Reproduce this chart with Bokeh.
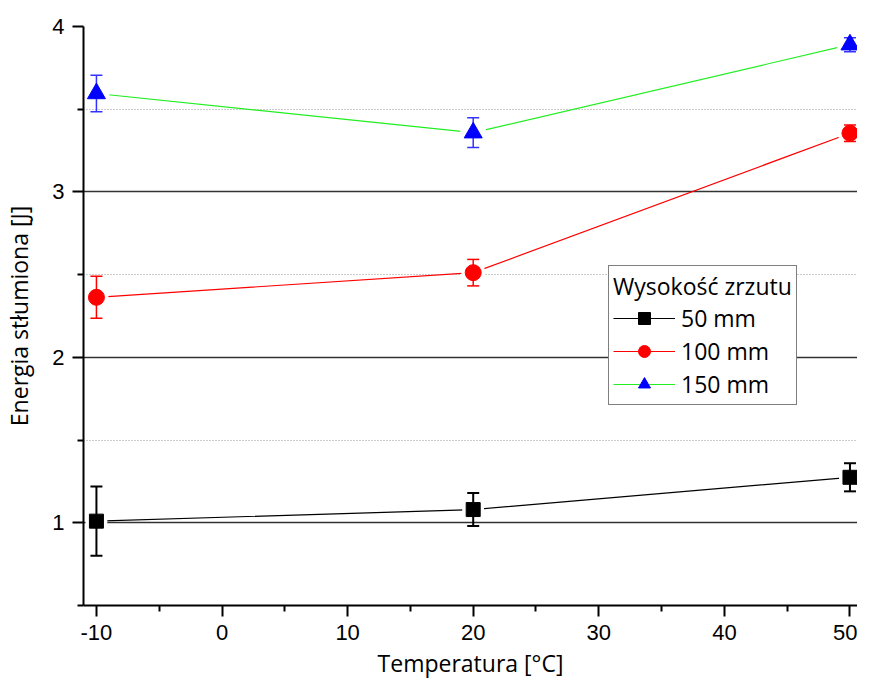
from bokeh.plotting import figure
from bokeh.models import Range1d, FixedTicker, Legend, LegendItem
from bokeh.embed import file_html
from bokeh.resources import INLINE

# ---- data ----
temps = [-10, 20, 50]
e50 = [1.01, 1.08, 1.275]
err50 = [0.21, 0.10, 0.085]
e100 = [2.363, 2.512, 3.355]
err100 = [0.127, 0.08, 0.05]
e150 = [3.595, 3.358, 3.89]
err150 = [0.11, 0.09, 0.042]

labels = ["50 mm", "100 mm", "150 mm"]
x_ticks = [-10, 0, 10, 20, 30, 40, 50]
x_minor = [-5, 5, 15, 25, 35, 45]
y_ticks = [1, 2, 3, 4]
y_minor = [0.5, 1.5, 2.5, 3.5]
legend_title = "Wysokość zrzutu"

p = figure(width=857, height=683, output_backend="svg", toolbar_location=None,
           x_range=Range1d(-11.03, 50.6), y_range=Range1d(0.5, 4.0),
           min_border_left=83, min_border_top=26, min_border_right=0,
           min_border_bottom=78)
p.outline_line_color = None
p.background_fill_color = "white"
p.border_fill_color = "white"

# axes
for ax in (p.xaxis[0], p.yaxis[0]):
    ax.axis_line_width = 2
    ax.axis_line_color = "black"
    ax.major_tick_line_width = 2
    ax.minor_tick_line_width = 2
    ax.major_tick_line_color = "black"
    ax.minor_tick_line_color = "black"
    ax.major_tick_in = 0
    ax.major_tick_out = 11
    ax.minor_tick_in = 0
    ax.minor_tick_out = 6
    ax.major_label_text_font = "Liberation Sans"
    ax.major_label_text_font_size = "22px"
    ax.major_label_text_color = "black"
    ax.axis_label_text_font = "Open Sans"
    ax.axis_label_text_font_size = "23px"
    ax.axis_label_text_font_style = "normal"
    ax.axis_label_text_color = "black"
    ax.major_label_standoff = 8

p.xaxis.ticker = FixedTicker(ticks=x_ticks, minor_ticks=x_minor)
p.yaxis.ticker = FixedTicker(ticks=y_ticks, minor_ticks=y_minor)
p.xaxis.major_label_overrides = {t: str(t) for t in x_ticks}
p.yaxis.major_label_overrides = {t: str(t) for t in y_ticks}
p.xaxis.axis_label = "Temperatura [°C]"
p.yaxis.axis_label = "Energia stłumiona [J]"
p.xaxis.axis_label_standoff = 4
p.yaxis.axis_label_standoff = 14

# grid
p.xgrid.visible = False
p.ygrid.ticker = FixedTicker(ticks=[1, 2, 3], minor_ticks=[1.5, 2.5, 3.5])
p.ygrid.grid_line_color = "#333333"
p.ygrid.grid_line_width = 1.3
p.ygrid.minor_grid_line_color = "#999999"
p.ygrid.minor_grid_line_dash = "1 2"
p.ygrid.minor_grid_line_width = 1.2

series = [
    (e50, err50, "black", "black", "black", "square", 14, 2.0),
    (e100, err100, "#ff0000", "#ff0000", "#ff0000", "circle", 16, 1.5),
    (e150, err150, "#22ee22", "#0000ff", "#3333ff", "triangle", 18, 1.5),
]

items = []
for (vals, errs, lcol, mcol, ecol, marker, size, ew), lab in zip(series, labels):
    lo = [v - e for v, e in zip(vals, errs)]
    hi = [v + e for v, e in zip(vals, errs)]
    lr = p.line(temps, vals, line_color=lcol, line_width=1.2)
    # white halo: gap between connecting line and marker (Origin style)
    p.scatter(temps, vals, marker="circle", size=size + 8, fill_color="white",
              line_color=None)
    p.segment(x0=temps, y0=lo, x1=temps, y1=hi, line_color=ecol, line_width=ew)
    p.scatter(temps, hi, marker="dash", size=12, line_color=ecol, line_width=ew)
    p.scatter(temps, lo, marker="dash", size=12, line_color=ecol, line_width=ew)
    mr = p.scatter(temps, vals, marker=marker, size=size, fill_color=mcol,
                   line_color=mcol)
    items.append(LegendItem(label=lab, renderers=[lr, mr]))

legend = Legend(items=items, location=(525, 200), title=legend_title)
legend.title_text_font = "Open Sans"
legend.title_text_font_size = "23px"
legend.title_text_font_style = "normal"
legend.title_text_color = "black"
legend.title_standoff = 0
legend.label_text_font = "Open Sans"
legend.label_text_font_size = "23px"
legend.label_text_color = "black"
legend.glyph_width = 62
legend.glyph_height = 30
legend.label_height = 30
legend.spacing = 1
legend.padding = 4
legend.margin = 0
legend.label_standoff = 6
legend.border_line_color = "black"
legend.border_line_width = 1
legend.background_fill_color = "white"
legend.background_fill_alpha = 1.0
p.add_layout(legend)

open("out.html", "w").write(file_html(p, INLINE))
